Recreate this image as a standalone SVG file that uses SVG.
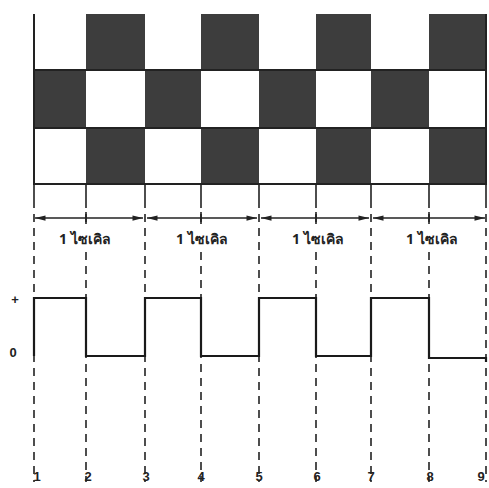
<svg xmlns="http://www.w3.org/2000/svg" width="489" height="488" viewBox="0 0 489 488">
<style>
.dark{fill:#3d3d3d}
.board{fill:none;stroke:#222;stroke-width:2}
.dash{stroke:#222;stroke-width:1.6;stroke-dasharray:8 6;fill:none}
.tick{stroke:#222;stroke-width:1.6;fill:none}
.arr{stroke:#222;stroke-width:1.6;fill:none;marker-start:url(#ah);marker-end:url(#ah)}
.wave{stroke:#1a1a1a;stroke-width:2.2;fill:none;stroke-linejoin:miter}
.lbl{font-family:"Noto Sans","DejaVu Sans",sans-serif;font-size:14px;font-weight:bold;fill:#222}
.num{font-family:"Liberation Sans",sans-serif;font-size:13px;font-weight:bold;fill:#222;text-anchor:middle}
</style>
<defs>
<marker id="ah" viewBox="0 0 12 8" refX="12" refY="4" markerWidth="12" markerHeight="7" orient="auto-start-reverse" markerUnits="userSpaceOnUse">
<path d="M0,1 L12,4 L0,7 z" fill="#222"/>
</marker>
</defs>
<rect width="489" height="488" fill="#fff"/>
<g id="board">
<rect class="dark" x="86" y="14" width="59" height="56"/>
<rect class="dark" x="201" y="14" width="58" height="56"/>
<rect class="dark" x="316" y="14" width="55" height="56"/>
<rect class="dark" x="429" y="14" width="57" height="56"/>
<rect class="dark" x="34" y="70" width="52" height="58"/>
<rect class="dark" x="145" y="70" width="56" height="58"/>
<rect class="dark" x="259" y="70" width="57" height="58"/>
<rect class="dark" x="371" y="70" width="58" height="58"/>
<rect class="dark" x="86" y="128" width="59" height="56"/>
<rect class="dark" x="201" y="128" width="58" height="56"/>
<rect class="dark" x="316" y="128" width="55" height="56"/>
<rect class="dark" x="429" y="128" width="57" height="56"/>
<path class="board" d="M34,14 V184 H486 V14 M34,70 H486 M34,128 H486"/>
</g>
<g id="connectors">
<path class="tick" d="M34,184 V200 M86,184 V200 M145,184 V200 M201,184 V200 M259,184 V200 M316,184 V200 M371,184 V200 M429,184 V200 M486,184 V200"/>
<path class="dash" d="M34,200 V482 M145,200 V482 M259,200 V482 M371,200 V482 M486,200 V482"/>
<path class="dash" d="M86,200 V226 M201,200 V226 M316,200 V226 M429,200 V226 M86,252 V482 M201,252 V482 M316,252 V482 M429,252 V482"/>
<path class="tick" d="M86,212 V224 M201,212 V224 M316,212 V224 M429,212 V224"/>
<line class="arr" x1="35" y1="218" x2="143" y2="218"/>
<line class="arr" x1="147" y1="218" x2="257" y2="218"/>
<line class="arr" x1="261" y1="218" x2="369" y2="218"/>
<line class="arr" x1="373" y1="218" x2="485" y2="218"/>
</g>
<g id="labels">
<text class="lbl" x="59" y="244">1 ไซเคิล</text>
<text class="lbl" x="176" y="244">1 ไซเคิล</text>
<text class="lbl" x="292" y="244">1 ไซเคิล</text>
<text class="lbl" x="406" y="244">1 ไซเคิล</text>
</g>
<g id="waveform">
<path class="wave" d="M34,356 V298 H86 V356 H145 V298 H201 V356 H259 V298 H316 V356 H371 V298 H429 V358 H486 V362"/>
<text class="num" x="15" y="304">+</text>
<text class="num" x="13" y="357">0</text>
</g>
<g id="numbers">
<text class="num" x="37" y="481">1</text>
<text class="num" x="88" y="481">2</text>
<text class="num" x="146" y="481">3</text>
<text class="num" x="201" y="481">4</text>
<text class="num" x="259" y="481">5</text>
<text class="num" x="317" y="481">6</text>
<text class="num" x="371" y="481">7</text>
<text class="num" x="430" y="481">8</text>
<text class="num" x="481" y="481">9</text>
</g>
</svg>
